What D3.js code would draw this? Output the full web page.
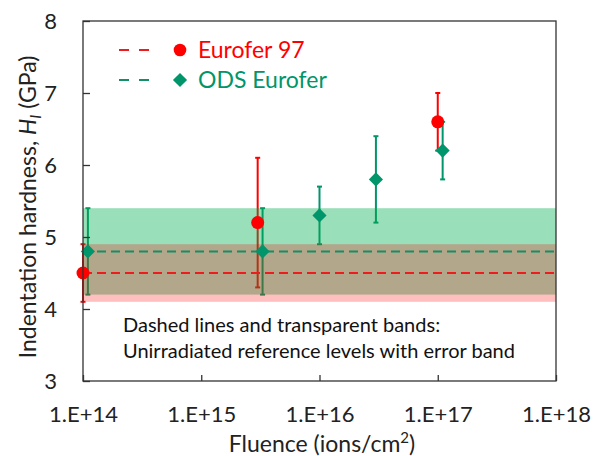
<!DOCTYPE html>
<html>
<head>
<meta charset="utf-8">
<script src="https://cdn.jsdelivr.net/npm/d3@7"></script>
<style>
  html, body { margin: 0; padding: 0; background: #fff; }
  svg { display: block; font-family: Lato, "Open Sans", sans-serif; }
</style>
</head>
<body>
<svg id="chart" width="593" height="456"></svg>
<script>
// Eurofer 97 hardness vs. fluence
const euroFluence = [1e14, 3e15, 1e17];
const euroH = [4.5, 5.2, 6.6];
const euroErr = [0.4, 0.9, 0.4];

// ODS Eurofer hardness vs. fluence
const odsFluence = [1.1e14, 3.3e15, 1e16, 3e16, 1.1e17];
const odsH = [4.8, 4.8, 5.3, 5.8, 6.2];
const odsErr = [0.6, 0.6, 0.4, 0.6, 0.4];

// Unirradiated reference levels (mean, error)
const refLevels = [
  { name: "Eurofer 97", mean: 4.5, err: 0.4 },
  { name: "ODS Eurofer", mean: 4.8, err: 0.6 }
];

const xTicks = [1e14, 1e15, 1e16, 1e17, 1e18];
const xTickLabels = ["1.E+14", "1.E+15", "1.E+16", "1.E+17", "1.E+18"];
const yTicks = [3, 4, 5, 6, 7, 8];

const RED = "#ff0000";
const GREEN = "#00956a";

const svg = d3.select("#chart");
const m = { left: 83, right: 556, top: 21, bottom: 381 };

const x = d3.scaleLog().domain([1e14, 1e18]).range([m.left, m.right]);
const y = d3.scaleLinear().domain([3, 8]).range([m.bottom, m.top]);

const euro = euroFluence.map((f, i) => ({ f, h: euroH[i], e: euroErr[i] }));
const ods = odsFluence.map((f, i) => ({ f, h: odsH[i], e: odsErr[i] }));

// error bars
function errorBars(data, color) {
  const g = svg.append("g").attr("stroke", color).attr("stroke-width", 2);
  data.forEach(d => {
    const cx = x(d.f);
    g.append("line").attr("x1", cx).attr("x2", cx)
      .attr("y1", y(d.h - d.e)).attr("y2", y(d.h + d.e));
    [d.h - d.e, d.h + d.e].forEach(v => {
      g.append("line").attr("x1", cx - 2.5).attr("x2", cx + 2.5)
        .attr("y1", y(v)).attr("y2", y(v));
    });
  });
}
errorBars(euro, RED);
errorBars(ods, GREEN);

// transparent reference bands
const bandFill = { "Eurofer 97": ["rgb(255,0,0)", 0.25], "ODS Eurofer": ["rgb(0,176,80)", 0.4] };
[refLevels[1], refLevels[0]].forEach(r => {
  svg.append("rect")
    .attr("x", m.left).attr("width", m.right - m.left)
    .attr("y", y(r.mean + r.err)).attr("height", y(r.mean - r.err) - y(r.mean + r.err))
    .attr("fill", bandFill[r.name][0]).attr("fill-opacity", bandFill[r.name][1]);
});

// dashed reference lines
refLevels.forEach(r => {
  svg.append("line")
    .attr("x1", m.left).attr("x2", m.right)
    .attr("y1", y(r.mean)).attr("y2", y(r.mean))
    .attr("stroke", r.name === "Eurofer 97" ? "#ee1c1c" : "#119066")
    .attr("stroke-width", 2).attr("stroke-dasharray", "9,5");
});

// markers
const diamond = d3.symbol().type(d3.symbolSquare).size(100);
svg.append("g").selectAll("path").data(ods).join("path")
  .attr("d", diamond)
  .attr("transform", d => `translate(${x(d.f)},${y(d.h)}) rotate(45)`)
  .attr("fill", GREEN);
svg.append("g").selectAll("circle").data(euro).join("circle")
  .attr("cx", d => x(d.f)).attr("cy", d => y(d.h)).attr("r", 6.5)
  .attr("fill", RED);

// axes
const xAxis = d3.axisBottom(x).tickValues(xTicks)
  .tickFormat((d, i) => xTickLabels[i]).tickSizeInner(-6).tickSizeOuter(0);
const gx = svg.append("g").attr("transform", `translate(0,${m.bottom})`).call(xAxis);
gx.select(".domain").remove();
gx.selectAll(".tick line").attr("stroke", "#333").attr("stroke-width", 1.3);
gx.selectAll(".tick text").attr("dy", null).attr("y", 41)
  .attr("font-size", 22).attr("fill", "#222").attr("font-family", "Lato");

const yAxis = d3.axisLeft(y).tickValues(yTicks).tickFormat(d3.format("d"))
  .tickSizeInner(-7).tickSizeOuter(0).tickPadding(26);
const gy = svg.append("g").attr("transform", `translate(${m.left},0)`).call(yAxis);
gy.select(".domain").remove();
gy.selectAll(".tick line").attr("stroke", "#333").attr("stroke-width", 1.3);
gy.selectAll(".tick text").attr("dy", "0.36em")
  .attr("font-size", 22).attr("fill", "#222").attr("font-family", "Lato");

// plot frame
svg.append("rect")
  .attr("x", m.left).attr("y", m.top)
  .attr("width", m.right - m.left).attr("height", m.bottom - m.top)
  .attr("fill", "none").attr("stroke", "#333").attr("stroke-width", 1.3);

// axis titles
const xt = svg.append("text").attr("x", 322).attr("y", 452)
  .attr("text-anchor", "middle").attr("font-size", 23).attr("fill", "#222");
xt.append("tspan").text("Fluence (ions/cm");
xt.append("tspan").text("2").attr("font-size", 15).attr("dy", -9);
xt.append("tspan").text(")").attr("dy", 9);

const yt = svg.append("text")
  .attr("transform", `translate(36,207) rotate(-90)`)
  .attr("text-anchor", "middle").attr("font-size", 23).attr("fill", "#222");
yt.append("tspan").text("Indentation hardness, ");
yt.append("tspan").text("H").attr("font-style", "italic");
yt.append("tspan").text("I").attr("font-style", "italic").attr("font-size", 15).attr("dy", 5);
yt.append("tspan").text(" (GPa)").attr("dy", -5);

// legend
const legend = [
  { label: "Eurofer 97", color: RED, line: "#ee1c1c", shape: "circle" },
  { label: "ODS Eurofer", color: GREEN, line: "#119066", shape: "diamond" }
];
legend.forEach((d, i) => {
  const ly = 50 + i * 30;
  svg.append("line").attr("x1", 119).attr("x2", 149).attr("y1", ly).attr("y2", ly)
    .attr("stroke", d.line).attr("stroke-width", 2).attr("stroke-dasharray", "10,10");
  if (d.shape === "circle") {
    svg.append("circle").attr("cx", 180).attr("cy", ly).attr("r", 6.3).attr("fill", d.color);
  } else {
    svg.append("path").attr("d", diamond).attr("transform", `translate(180,${ly}) rotate(45)`)
      .attr("fill", d.color);
  }
  svg.append("text").attr("x", 198).attr("y", ly + 8).attr("font-size", 23)
    .attr("fill", d.color).text(d.label);
});

// note
const note = ["Dashed lines and transparent bands:", "Unirradiated reference levels with error band"];
note.forEach((t, i) => {
  svg.append("text").attr("x", 123).attr("y", 332 + i * 26).attr("font-size", 20)
    .attr("fill", "#111").text(t);
});
</script>
</body>
</html>
